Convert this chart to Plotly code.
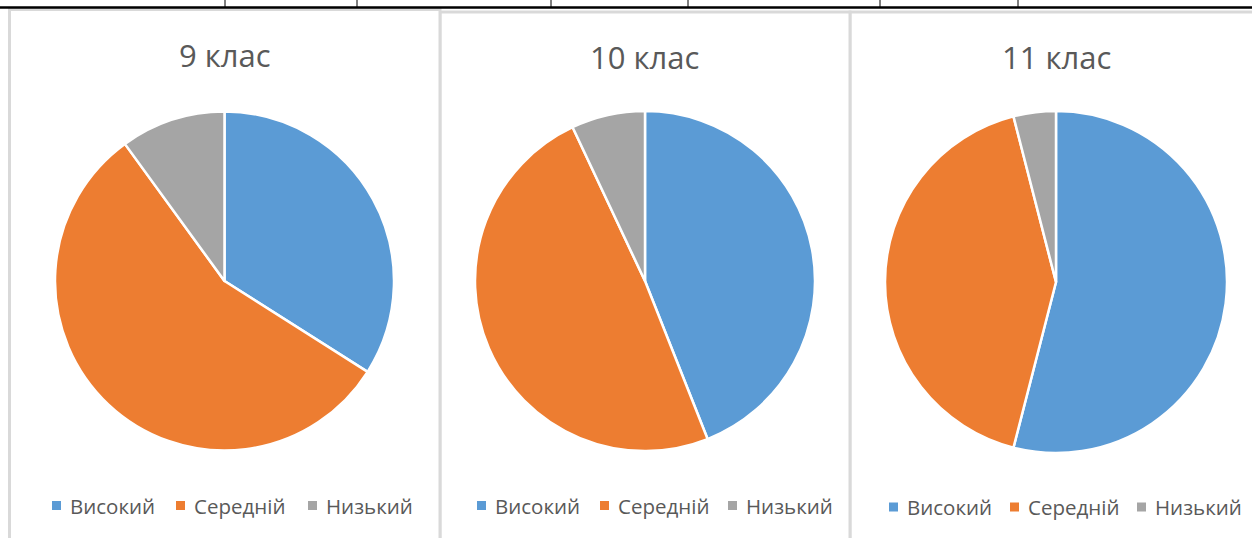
import plotly.graph_objects as go

W, H = 1252, 538

classes = ["9 клас", "10 клас", "11 клас"]
levels = ["Високий", "Середній", "Низький"]
values_9 = [34, 56, 10]
values_10 = [44, 49, 7]
values_11 = [54, 42, 4]
colors = ["#5B9BD5", "#ED7D31", "#A5A5A5"]

series = [values_9, values_10, values_11]

# layout (pixels)
pie_boxes = [(55, 110, 394, 452), (475, 111, 815, 451), (885, 111, 1227, 453)]
title_pos = [(224.5, 55), (644, 57), (1056, 57)]
legend_y = [505.5, 505.5, 507]
legend_marker_x = [[52, 176, 308], [477, 600, 728], [889, 1010, 1137]]
text_gap = 16
panels = [(9.5, 9.5, 440, 560), (440, 12, 850, 560), (850, 12, 1270, 560)]
table_cols = [225, 357, 551, 688, 880, 1018]

def px(x):
    return x / W

def py(y):
    return 1 - y / H

fig = go.Figure()
for vals, (x0, y0, x1, y1), name in zip(series, pie_boxes, classes):
    fig.add_trace(go.Pie(
        labels=levels, values=vals, name=name,
        marker=dict(colors=colors, line=dict(color="white", width=2.5)),
        sort=False, direction="clockwise", rotation=0,
        textinfo="none", hoverinfo="label+value+percent",
        domain=dict(x=[px(x0), px(x1)], y=[py(y1), py(y0)]),
        showlegend=False,
    ))

shapes = []
# panels
for (x0, y0, x1, y1) in panels[::-1]:
    shapes.append(dict(type="rect", xref="paper", yref="paper",
                       x0=px(x0), x1=px(x1), y0=py(y1), y1=py(y0),
                       line=dict(color="#D9D9D9", width=3), fillcolor="white",
                       layer="below"))
# table lines at top
shapes.append(dict(type="line", xref="paper", yref="paper", x0=0, x1=1,
                   y0=py(7.5), y1=py(7.5), line=dict(color="black", width=2.5)))
for c in table_cols:
    shapes.append(dict(type="line", xref="paper", yref="paper", x0=px(c), x1=px(c),
                       y0=py(0), y1=py(7), line=dict(color="black", width=1)))

annotations = []
for name, (tx, ty) in zip(classes, title_pos):
    annotations.append(dict(text=name, x=px(tx), y=py(ty), xref="paper", yref="paper",
                            xanchor="center", yanchor="middle", showarrow=False,
                            font=dict(family="Open Sans", size=31, color="#595959")))

# legends
for ly, mxs in zip(legend_y, legend_marker_x):
    for lab, col, mx in zip(levels, colors, mxs):
        shapes.append(dict(type="rect", xref="paper", yref="paper",
                           x0=px(mx), x1=px(mx + 9), y0=py(ly + 4.5), y1=py(ly - 4.5),
                           fillcolor=col, line=dict(width=0)))
        annotations.append(dict(text=lab, x=px(mx + text_gap), y=py(ly), xref="paper",
                                yref="paper", xanchor="left", yanchor="middle",
                                showarrow=False,
                                font=dict(family="Open Sans", size=20.5, color="#595959")))

fig.update_layout(width=W, height=H, margin=dict(l=0, r=0, t=0, b=0),
                  paper_bgcolor="white", plot_bgcolor="white",
                  shapes=shapes, annotations=annotations)

fig.write_html("out.html", config={"displayModeBar": False},
               post_script="document.body.style.margin='0';document.body.style.padding='0';")
